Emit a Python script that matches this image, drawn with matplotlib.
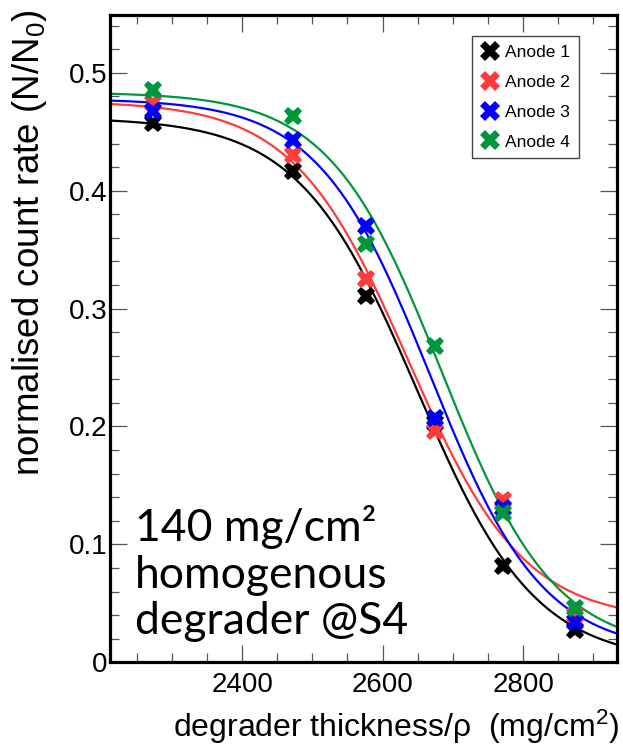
import numpy as np
import matplotlib
matplotlib.use("Agg")
import matplotlib.pyplot as plt
from matplotlib.ticker import MultipleLocator, FixedLocator, FuncFormatter

plt.rcParams['font.family'] = ['Liberation Sans', 'DejaVu Sans']
plt.rcParams['mathtext.fontset'] = 'custom'
plt.rcParams['mathtext.rm'] = 'Liberation Sans'
plt.rcParams['mathtext.it'] = 'Liberation Sans'

# ---- data ----
thickness = [2273, 2473, 2577, 2674, 2771, 2874]
anode1 = [0.457, 0.417, 0.311, 0.203, 0.082, 0.027]
anode2 = [0.474, 0.430, 0.325, 0.196, 0.138, 0.040]
anode3 = [0.468, 0.443, 0.370, 0.207, 0.131, 0.034]
anode4 = [0.485, 0.463, 0.355, 0.268, 0.127, 0.046]
labels = ["Anode 1", "Anode 2", "Anode 3", "Anode 4"]
colors = ["#000000", "#ff3b3b", "#0000ff", "#00963c"]

# fit curves: offset + amp / (1 + exp((x - center) / width))
fit_amp = [0.462, 0.441, 0.470, 0.4735]
fit_offset = [0.000, 0.035, 0.008, 0.010]
fit_center = [2649, 2637, 2668, 2684]
fit_width = [84, 82, 80, 80]

xlim = (2212, 2933)
ylim = (0.0, 0.549)

W, H = 623, 746
fig = plt.figure(figsize=(W / 100, H / 100), dpi=100)
ax = fig.add_axes([110 / W, 1 - 662.3 / H, (616.5 - 110) / W, (662.3 - 15) / H])

xs = np.linspace(xlim[0], xlim[1], 400)
series = [anode1, anode2, anode3, anode4]
for i, ys in enumerate(series):
    fy = fit_offset[i] + fit_amp[i] / (1 + np.exp((xs - fit_center[i]) / fit_width[i]))
    ax.plot(xs, fy, color=colors[i], lw=1.6, zorder=2)
for i, ys in enumerate(series):
    ax.plot(thickness, ys, linestyle='none', marker='X', ms=13, mew=0,
            color=colors[i], label=labels[i], zorder=3)

ax.set_xlim(*xlim)
ax.set_ylim(*ylim)
ax.xaxis.set_major_locator(FixedLocator([2400, 2600, 2800]))
ax.xaxis.set_minor_locator(MultipleLocator(50))
ax.yaxis.set_major_locator(MultipleLocator(0.1))
ax.yaxis.set_minor_locator(MultipleLocator(0.02))
ax.yaxis.set_major_formatter(FuncFormatter(lambda v, p: "0" if abs(v) < 1e-9 else f"{v:.1f}"))

for s in ax.spines.values():
    s.set_linewidth(2.3)
    s.set_color('black')
ax.tick_params(which='both', direction='in', top=True, right=True, color='#555555', width=0.9)
ax.tick_params(which='major', length=12.5)
ax.tick_params(which='minor', length=6.5)
ax.tick_params(axis='x', labelsize=20, pad=7)
ax.tick_params(axis='y', labelsize=20, pad=2)

fig.text(30 / W, 1 - 243 / H, r"normalised count rate (N/N$_{0}$)", rotation=90,
         ha='center', va='center', fontsize=26.5)
fig.text(619 / W, 1 - 737 / H, r"degrader thickness/ρ  (mg/cm$^{2}$)",
         ha='right', va='baseline', fontsize=23)

ann = ["140 mg/cm²", "homogenous", "degrader @S4"]
ann_base = [541, 587.5, 634]
for t, yb in zip(ann, ann_base):
    fig.text(135 / W, 1 - yb / H, t, ha='left', va='baseline', fontsize=32,
             family=['Lato', 'DejaVu Sans'])

leg = ax.legend(loc='upper left', bbox_to_anchor=(472 / W, 1 - 36 / H),
                bbox_transform=fig.transFigure, borderaxespad=0, fontsize=12.5,
                frameon=True, fancybox=False, shadow=False, handlelength=1.1,
                handletextpad=0.3, labelspacing=0.85, borderpad=0.5, markerscale=1.1)
leg.get_frame().set_edgecolor('#444444')
leg.get_frame().set_linewidth(1.0)
leg.get_frame().set_alpha(1)

fig.savefig("out.png", dpi=100)
